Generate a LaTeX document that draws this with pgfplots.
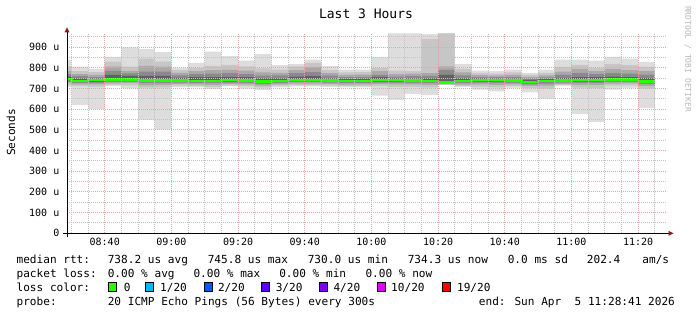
\documentclass[border=0pt]{standalone}
\usepackage{fontspec}
\setmainfont{DejaVu Sans Mono}
\usepackage{pgfplots}
\usepackage{pgfplotstable}
\pgfplotsset{compat=1.18}
\definecolor{sm1}{HTML}{DDDDDD}
\definecolor{sm2}{HTML}{C6C6C6}
\definecolor{sm3}{HTML}{A8A8A8}
\definecolor{sm4}{HTML}{8A8A8A}
\definecolor{sm5}{HTML}{606060}
\definecolor{lc0}{HTML}{26FF00}
\definecolor{lc1}{HTML}{00B8FF}
\definecolor{lc2}{HTML}{0059FF}
\definecolor{lc3}{HTML}{5E00FF}
\definecolor{lc4}{HTML}{7E00FF}
\definecolor{lc10}{HTML}{DD00FF}
\definecolor{lc19}{HTML}{FF0000}
\definecolor{mgrid}{HTML}{E3A5A5}
\definecolor{ngrid}{HTML}{C4C4C4}
\definecolor{arrowred}{HTML}{8B1A1A}
\definecolor{wm}{HTML}{B8B8B8}
\newcommand\lf{\fontsize{11.1bp}{13bp}\selectfont}
\newcommand\tf{\fontsize{13bp}{15bp}\selectfont}
\newcommand\af{\fontsize{10bp}{12bp}\selectfont}

% t = minutes after 08:00 (start of each 5-minute step)
\pgfplotstableread{
t mn l2 l3 l4 l5 md u5 u4 u3 u2 mx
25 708 716 726 734 740 745.8 758 770 784 808 838
30 621 712 720 726 732 738 750 760 770 785 806
35 601 710 720 728 734 741 748 756 766 780 795
40 713 718 725 733 739 745 766 786 806 830 854
45 701 716 726 733 739 745 761 774 786 806 900
50 548 705 716 726 733 740 762 782 810 845 892
55 501 706 718 727 733 740 762 782 806 830 877
60 706 714 722 729 734 740 752 764 776 790 801
65 706 712 720 727 732 738 755 770 784 800 825
70 697 708 718 726 731 737 756 772 790 810 879
75 712 714 722 729 735 741 757 775 792 815 857
80 700 712 720 728 734 740 755 770 787 808 835
85 693 706 715 722 729 735 750 763 778 798 867
90 706 714 720 727 732 738 750 764 776 792 814
95 711 716 724 731 737 743 758 775 790 808 819
100 711 716 724 731 737 743 760 780 805 825 840
105 708 714 722 729 734 740 750 763 775 790 809
110 706 712 719 726 731 737 747 756 766 778 792
115 706 712 720 727 732 738 748 757 768 780 792
120 666 712 722 729 735 741 755 767 784 800 853
125 645 708 720 729 735 741 750 758 770 787 967
130 675 708 720 728 734 740 750 760 772 784 967
135 669 706 718 726 732 738 750 762 775 940 964
140 717 719 721 724 727 730 767 791 808 967 967
145 708 712 719 726 731 737 750 764 778 795 819
150 695 710 720 729 735 741 749 756 765 775 787
155 687 706 718 728 735 741 748 755 763 772 784
160 703 712 720 728 734 740 748 756 766 778 792
165 682 702 713 721 727 732 742 750 757 766 776
170 650 700 715 724 731 737 746 754 764 776 792
175 714 716 722 729 734 740 752 767 782 805 840
180 577 705 718 728 735 741 756 775 795 815 840
185 538 702 717 728 735 741 755 770 785 800 835
190 695 714 724 732 738 745 758 775 795 820 853
195 703 716 725 732 738 744 756 772 790 815 845
200 606 700 712 722 729 734.3 752 768 785 805 829
205 606 700 712 722 729 734.3 752 768 785 805 829
}\smoke

\begin{document}
\begin{tikzpicture}
\fill[white] (0,0) rectangle (697bp,315bp);
\begin{axis}[
  at={(67bp,81.7bp)}, anchor=south west,
  scale only axis, width=600bp, height=200bp,
  xmin=28.683, xmax=208.683, ymin=0, ymax=967.6,
  axis line style={draw=none},
  axis on top,
  xtick={40,60,80,100,120,140,160,180,200},
  xticklabels={08:40,09:00,09:20,09:40,10:00,10:20,10:40,11:00,11:20},
  minor xtick={30,35,45,50,55,65,70,75,85,90,95,105,110,115,125,130,135,145,150,155,165,170,175,185,190,195,205},
  ytick={0,100,200,300,400,500,600,700,800,900},
  yticklabels={0,100 u,200 u,300 u,400 u,500 u,600 u,700 u,800 u,900 u},
  minor ytick={50,150,250,350,450,550,650,750,850,950},
  grid=both,
  major grid style={mgrid, line width=1bp, dash pattern=on 1bp off 1bp},
  minor grid style={ngrid, line width=1bp, dash pattern=on 1bp off 1bp},
  major tick length=0pt, minor tick length=0pt,
  tick style={draw=none},
  xticklabel style={font=\af, anchor=base, inner sep=0pt, yshift=-12.7bp},
  yticklabel style={font=\af, anchor=base east, inner sep=0pt, xshift=-7.5bp, yshift=-3.6bp},
  every axis plot/.append style={const plot, draw=none, forget plot},
]
% upper smoke: successively darker towards the median
\addplot[fill=sm1] table[x=t,y=mx]{\smoke} \closedcycle;
\addplot[fill=sm2] table[x=t,y=u2]{\smoke} \closedcycle;
\addplot[fill=sm3] table[x=t,y=u3]{\smoke} \closedcycle;
\addplot[fill=sm4] table[x=t,y=u4]{\smoke} \closedcycle;
\addplot[fill=sm5] table[x=t,y=u5]{\smoke} \closedcycle;
% lower smoke
\addplot[fill=sm4] table[x=t,y=l5]{\smoke} \closedcycle;
\addplot[fill=sm3] table[x=t,y=l4]{\smoke} \closedcycle;
\addplot[fill=sm2] table[x=t,y=l3]{\smoke} \closedcycle;
\addplot[fill=sm1] table[x=t,y=l2]{\smoke} \closedcycle;
\addplot[fill=white] table[x=t,y=mn]{\smoke} \closedcycle;
% median
\addplot[draw=lc0, line width=2.4bp] table[x=t,y=md]{\smoke};
\end{axis}
% axes with arrows
\draw[black, line width=1bp] (63bp,81.7bp) -- (669bp,81.7bp);
\fill[arrowred] (673.5bp,81.7bp) -- (668.5bp,84.2bp) -- (668.5bp,79.2bp) -- cycle;
\draw[black, line width=1bp] (67bp,78bp) -- (67bp,283bp);
\fill[arrowred] (67bp,287.5bp) -- (64.5bp,282.5bp) -- (69.5bp,282.5bp) -- cycle;
% title and labels
\node[anchor=base, inner sep=0pt, font=\tf] at (366bp,296.7bp) {Last 3 Hours};
\node[rotate=90, inner sep=0pt, font=\lf] at (11bp,182.5bp) {Seconds};
\node[rotate=-90, inner sep=0pt, font=\fontsize{8bp}{9bp}\selectfont, text=wm] at (688bp,256bp) {RRDTOOL / TOBI OETIKER};
% legend
\begin{scope}[every node/.style={anchor=base west, inner sep=0pt, font=\lf}]
\node at (16.4bp,51.7bp) {median rtt:};
\node at (107.6bp,51.7bp) {738.2 us avg};
\node at (207.6bp,51.7bp) {745.8 us max};
\node at (307.6bp,51.7bp) {730.0 us min};
\node at (407.6bp,51.7bp) {734.3 us now};
\node at (507.6bp,51.7bp) {0.0 ms sd};
\node at (586.7bp,51.7bp) {202.4};
\node at (642.2bp,51.7bp) {am/s};
\node at (16.4bp,37.7bp) {packet loss:};
\node at (107.6bp,37.7bp) {0.00 \% avg};
\node at (193.3bp,37.7bp) {0.00 \% max};
\node at (279.1bp,37.7bp) {0.00 \% min};
\node at (365.3bp,37.7bp) {0.00 \% now};
\node at (16.4bp,23.7bp) {loss color:};
\node at (123.6bp,23.7bp) {0};
\node at (160bp,23.7bp) {1/20};
\node at (217.8bp,23.7bp) {2/20};
\node at (275.6bp,23.7bp) {3/20};
\node at (333.3bp,23.7bp) {4/20};
\node at (391bp,23.7bp) {10/20};
\node at (456.9bp,23.7bp) {19/20};
\node at (16.4bp,9.5bp) {probe:};
\node at (107.6bp,9.5bp) {20 ICMP Echo Pings (56 Bytes) every 300s};
\node at (478.7bp,9.5bp) {end: Sun Apr\ \ 5 11:28:41 2026};
\end{scope}
\filldraw[fill=lc0, draw=black, line width=1bp] (108.5bp,23.2bp) rectangle (116.5bp,32.8bp);
\filldraw[fill=lc1, draw=black, line width=1bp] (145.8bp,23.2bp) rectangle (153.8bp,32.8bp);
\filldraw[fill=lc2, draw=black, line width=1bp] (204.1bp,23.2bp) rectangle (212.1bp,32.8bp);
\filldraw[fill=lc3, draw=black, line width=1bp] (261.8bp,23.2bp) rectangle (269.8bp,32.8bp);
\filldraw[fill=lc4, draw=black, line width=1bp] (319.5bp,23.2bp) rectangle (327.5bp,32.8bp);
\filldraw[fill=lc10, draw=black, line width=1bp] (377.4bp,23.2bp) rectangle (385.4bp,32.8bp);
\filldraw[fill=lc19, draw=black, line width=1bp] (442.7bp,23.2bp) rectangle (450.7bp,32.8bp);
\pgfresetboundingbox
\path[use as bounding box] (0,0) rectangle (697bp,315bp);
\end{tikzpicture}
\end{document}
